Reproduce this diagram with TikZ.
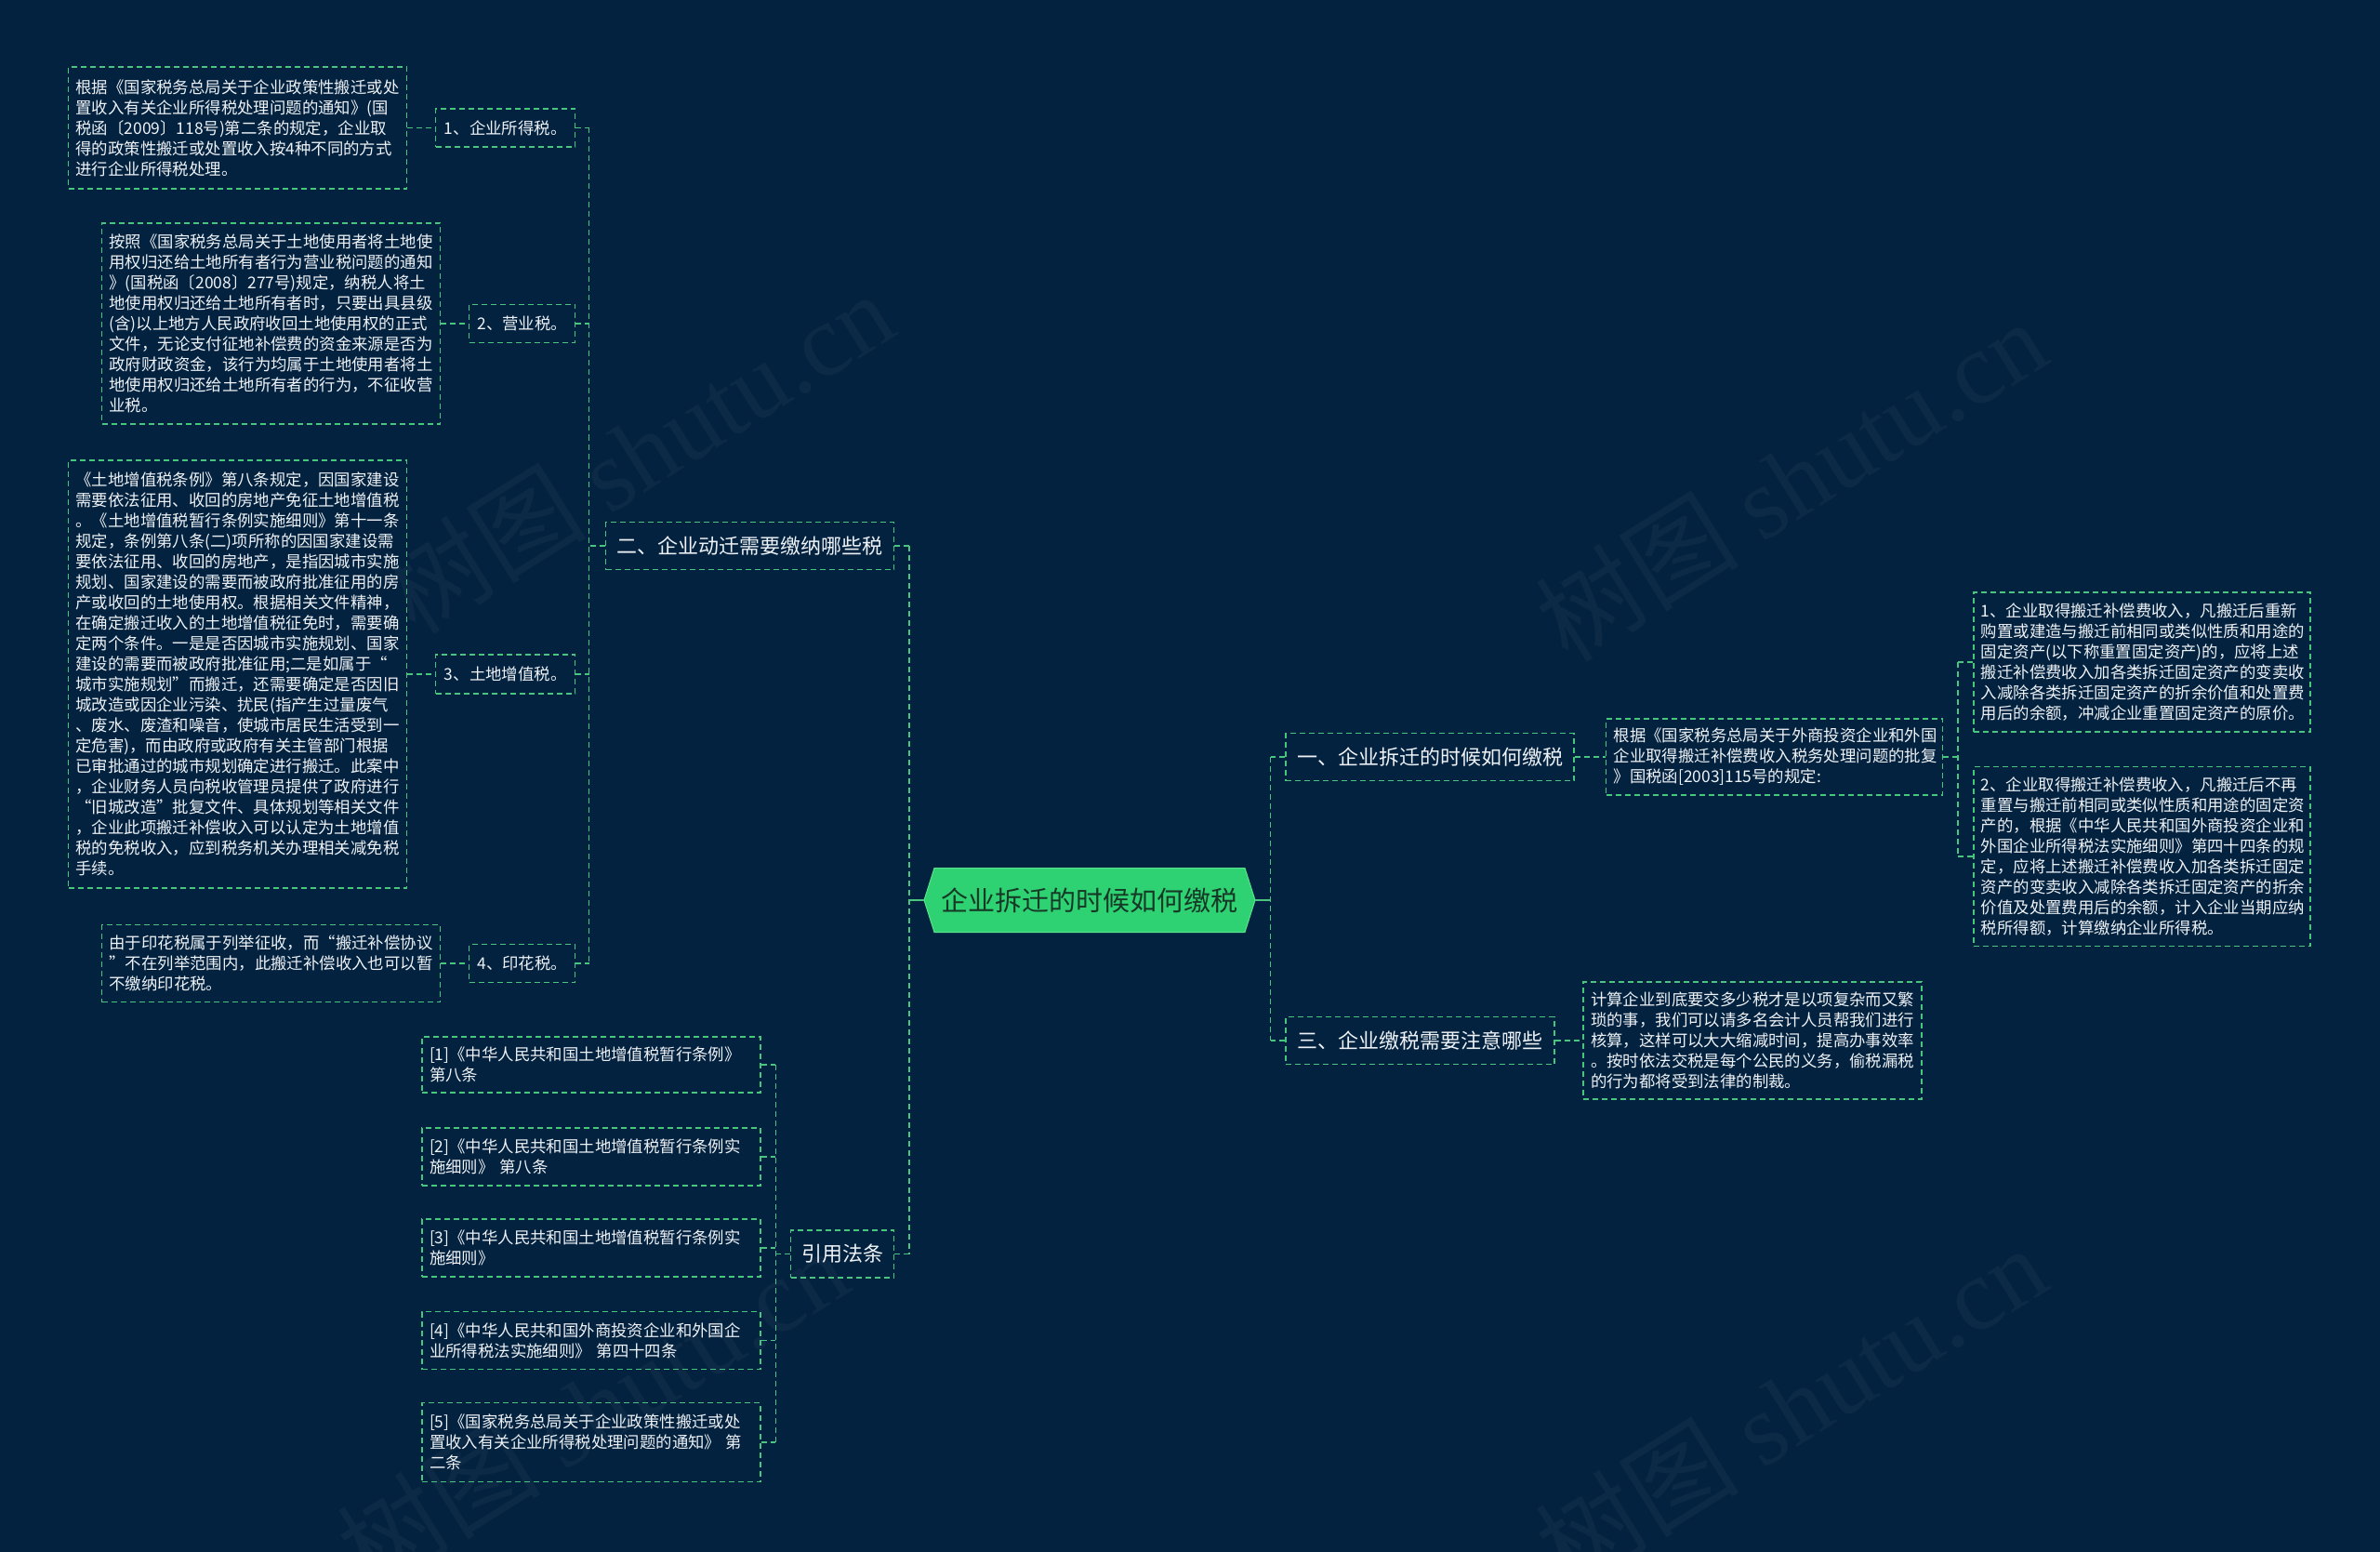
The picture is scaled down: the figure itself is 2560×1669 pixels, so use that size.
\documentclass[tikz,border=0pt]{standalone}
\usepackage{fontspec}
\newfontfamily\cjk{Noto Sans CJK SC}
\newfontfamily\wmserif{Liberation Serif}
\definecolor{bg}{RGB}{3,34,63}
\definecolor{lineg}{RGB}{72,198,128}
\definecolor{txt}{RGB}{238,242,246}
\definecolor{rootg}{RGB}{46,210,114}
\definecolor{rootedge}{RGB}{90,226,140}
\definecolor{roottxt}{RGB}{22,56,38}
\definecolor{wm}{RGB}{12,42,69}
\tikzset{
  dl/.style={draw=lineg, line width=1.5pt, dash pattern=on 6pt off 4pt},
  conn/.style={lineg, line width=1.5pt, dash pattern=on 6pt off 4pt},
  solidconn/.style={lineg, line width=2.2pt},
  leaf/.style={dl, text=txt, font=\cjk\fontsize{17.4pt}{22pt}\selectfont, align=left, inner xsep=8pt, inner ysep=0pt},
  sub/.style={dl, text=txt, font=\cjk\fontsize{17.4pt}{22pt}\selectfont, align=center, inner sep=0pt, minimum height=41pt},
  lvl/.style={dl, text=txt, font=\cjk\fontsize{22pt}{26pt}\selectfont, inner sep=0pt, minimum height=51pt},
  wmark/.style={rotate=32, text=wm, font=\cjk\fontsize{110pt}{120pt}\selectfont},
}
\begin{document}
\begin{tikzpicture}[x=1pt, y=-1pt]
\fill[bg] (0,0) rectangle (2560,1669);
\useasboundingbox (0,0) rectangle (2560,1669);

% watermarks
\node[wmark] (w1) at (686,486) {树图 {\wmserif shutu.cn}};
\node[wmark] (w2) at (1926,516) {树图 {\wmserif shutu.cn}};
\node[wmark] (w3) at (1926,1512) {树图 {\wmserif shutu.cn}};
\node[wmark] (w4) at (637,1514) {树图 {\wmserif shutu.cn}};

% trunk coordinates
\coordinate (tL1) at (633.5,0);
\coordinate (tL0) at (978,0);
\coordinate (tRf) at (834.3,0);
\coordinate (tR) at (1366.6,0);
\coordinate (tE) at (2106.2,0);

% root
\fill[rootg, draw=rootedge, line width=1pt] (994,968) -- (1005,933.5) -- (1339,933.5) -- (1350,968) -- (1339,1002.5) -- (1005,1002.5) -- cycle;
\node[font=\cjk\fontsize{29pt}{34pt}\selectfont, text=roottxt, minimum width=356pt, minimum height=69pt, inner sep=0pt] (root) at (1172,968) {企业拆迁的时候如何缴税};

% level 1
\node[lvl, minimum width=310pt] (n2) at (806.5,587) {二、企业动迁需要缴纳哪些税};
\node[lvl, minimum width=111pt] (ref) at (906,1348.6) {引用法条};
\node[lvl, minimum width=310pt] (n1) at (1538,814) {一、企业拆迁的时候如何缴税};
\node[lvl, minimum width=289pt] (n3) at (1527.5,1119) {三、企业缴税需要注意哪些};

% left sub nodes
\node[sub, minimum width=150pt] (s1) at (543.7,137.5) {1、企业所得税。};
\node[sub, minimum width=114pt] (s2) at (561.7,348) {2、营业税。};
\node[sub, minimum width=150pt, minimum height=42pt] (s3) at (543.7,725) {3、土地增值税。};
\node[sub, minimum width=114pt] (s4) at (561.7,1036) {4、印花税。};

% left leaves
\node[leaf, text width=348pt, minimum height=131pt] (a) at (255.5,137.5) {根据《国家税务总局关于企业政策性搬迁或处\\置收入有关企业所得税处理问题的通知》(国\\税函〔2009〕118号)第二条的规定，企业取\\得的政策性搬迁或处置收入按4种不同的方式\\进行企业所得税处理。};
\node[leaf, text width=348pt, minimum height=216pt] (b) at (291.5,348) {按照《国家税务总局关于土地使用者将土地使\\用权归还给土地所有者行为营业税问题的通知\\》(国税函〔2008〕277号)规定，纳税人将土\\地使用权归还给土地所有者时，只要出具县级\\(含)以上地方人民政府收回土地使用权的正式\\文件，无论支付征地补偿费的资金来源是否为\\政府财政资金，该行为均属于土地使用者将土\\地使用权归还给土地所有者的行为，不征收营\\业税。};
\node[leaf, text width=348pt, minimum height=460pt] (c) at (255.5,725) {《土地增值税条例》第八条规定，因国家建设\\需要依法征用、收回的房地产免征土地增值税\\。《土地增值税暂行条例实施细则》第十一条\\规定，条例第八条(二)项所称的因国家建设需\\要依法征用、收回的房地产，是指因城市实施\\规划、国家建设的需要而被政府批准征用的房\\产或收回的土地使用权。根据相关文件精神，\\在确定搬迁收入的土地增值税征免时，需要确\\定两个条件。一是是否因城市实施规划、国家\\建设的需要而被政府批准征用;二是如属于“\\城市实施规划”而搬迁，还需要确定是否因旧\\城改造或因企业污染、扰民(指产生过量废气\\、废水、废渣和噪音，使城市居民生活受到一\\定危害)，而由政府或政府有关主管部门根据\\已审批通过的城市规划确定进行搬迁。此案中\\，企业财务人员向税收管理员提供了政府进行\\“旧城改造”批复文件、具体规划等相关文件\\，企业此项搬迁补偿收入可以认定为土地增值\\税的免税收入，应到税务机关办理相关减免税\\手续。};
\node[leaf, text width=348pt, minimum height=83pt] (d) at (291.5,1036) {由于印花税属于列举征收，而“搬迁补偿协议\\”不在列举范围内，此搬迁补偿收入也可以暂\\不缴纳印花税。};

% references
\node[leaf, text width=348pt, minimum height=60pt] (r1) at (636,1145) {[1]《中华人民共和国土地增值税暂行条例》\\第八条};
\node[leaf, text width=348pt, minimum height=62pt] (r2) at (636,1244) {[2]《中华人民共和国土地增值税暂行条例实\\施细则》 第八条};
\node[leaf, text width=348pt, minimum height=62pt] (r3) at (636,1342) {[3]《中华人民共和国土地增值税暂行条例实\\施细则》};
\node[leaf, text width=348pt, minimum height=62pt] (r4) at (636,1441.6) {[4]《中华人民共和国外商投资企业和外国企\\业所得税法实施细则》 第四十四条};
\node[leaf, text width=348pt, minimum height=85pt] (r5) at (636,1551) {[5]《国家税务总局关于企业政策性搬迁或处\\置收入有关企业所得税处理问题的通知》 第\\二条};

% right leaves
\node[leaf, text width=346pt, minimum height=82pt] (e) at (1908.6,814) {根据《国家税务总局关于外商投资企业和外国\\企业取得搬迁补偿费收入税务处理问题的批复\\》国税函[2003]115号的规定:};
\node[leaf, text width=346pt, minimum height=150pt] (f1) at (2303.8,712) {1、企业取得搬迁补偿费收入，凡搬迁后重新\\购置或建造与搬迁前相同或类似性质和用途的\\固定资产(以下称重置固定资产)的，应将上述\\搬迁补偿费收入加各类拆迁固定资产的变卖收\\入减除各类拆迁固定资产的折余价值和处置费\\用后的余额，冲减企业重置固定资产的原价。};
\node[leaf, text width=346pt, minimum height=193pt] (f2) at (2303.8,921) {2、企业取得搬迁补偿费收入，凡搬迁后不再\\重置与搬迁前相同或类似性质和用途的固定资\\产的，根据《中华人民共和国外商投资企业和\\外国企业所得税法实施细则》第四十四条的规\\定，应将上述搬迁补偿费收入加各类拆迁固定\\资产的变卖收入减除各类拆迁固定资产的折余\\价值及处置费用后的余额，计入企业当期应纳\\税所得额，计算缴纳企业所得税。};
\node[leaf, text width=348pt, minimum height=126pt] (g) at (1885,1119) {计算企业到底要交多少税才是以项复杂而又繁\\琐的事，我们可以请多名会计人员帮我们进行\\核算，这样可以大大缩减时间，提高办事效率\\。按时依法交税是每个公民的义务，偷税漏税\\的行为都将受到法律的制裁。};

% connectors: leaves to sub nodes
\draw[conn] (a.east) -- (s1.west);
\draw[conn] (b.east) -- (s2.west);
\draw[conn] (c.east) -- (s3.west);
\draw[conn] (d.east) -- (s4.west);
% sub nodes to n2
\draw[conn] (s1.east) -- (s1.east -| tL1);
\draw[conn] (s2.east) -- (s2.east -| tL1);
\draw[conn] (s3.east) -- (s3.east -| tL1);
\draw[conn] (s4.east) -- (s4.east -| tL1);
\draw[conn] (s1.east -| tL1) -- (s4.east -| tL1);
\draw[conn] (n2.west) -- (n2.west -| tL1);
% root left
\draw[conn] (n2.east) -- (n2.east -| tL0);
\draw[conn] (ref.east) -- (ref.east -| tL0);
\draw[conn] (n2.east -| tL0) -- (ref.east -| tL0);
\draw[solidconn] (root.west) -- (root.west -| tL0);
% references
\draw[conn] (r1.east) -- (r1.east -| tRf);
\draw[conn] (r2.east) -- (r2.east -| tRf);
\draw[conn] (r3.east) -- (r3.east -| tRf);
\draw[conn] (r4.east) -- (r4.east -| tRf);
\draw[conn] (r5.east) -- (r5.east -| tRf);
\draw[conn] (r1.east -| tRf) -- (r5.east -| tRf);
\draw[conn] (ref.west) -- (ref.west -| tRf);
% root right
\draw[solidconn] (root.east) -- (root.east -| tR);
\draw[conn] (n1.west) -- (n1.west -| tR);
\draw[conn] (n3.west) -- (n3.west -| tR);
\draw[conn] (n1.west -| tR) -- (n3.west -| tR);
\draw[conn] (n1.east) -- (e.west);
\draw[conn] (n3.east) -- (g.west);
\draw[conn] (e.east) -- (e.east -| tE);
\draw[conn] (f1.west) -- (f1.west -| tE);
\draw[conn] (f2.west) -- (f2.west -| tE);
\draw[conn] (f1.west -| tE) -- (f2.west -| tE);
\end{tikzpicture}
\end{document}
